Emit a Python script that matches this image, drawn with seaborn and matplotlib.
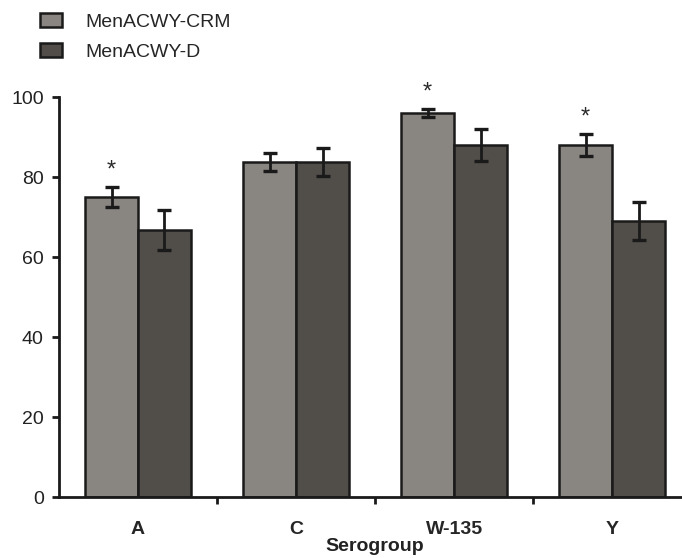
import seaborn as sns
import matplotlib.pyplot as plt
import pandas as pd
import numpy as np
from matplotlib.patches import Patch

groups = ['A', 'C', 'W-135', 'Y']
vaccines = ['MenACWY-CRM', 'MenACWY-D']
crm = [75, 83.8, 96, 88]
crm_err = [2.5, 2.2, 1.0, 2.7]
men_d = [66.8, 83.8, 88, 69]
men_d_err = [5.0, 3.5, 4.0, 4.8]
signif = [True, False, True, True]

colors = ['#8a8580', '#524d48']

sns.set_style("white")
plt.rcParams['font.family'] = ['Liberation Sans', 'DejaVu Sans']

df = pd.DataFrame({
    'Serogroup': groups * 2,
    'Vaccine': [vaccines[0]] * 4 + [vaccines[1]] * 4,
    'Value': crm + men_d,
})

fig = plt.figure(figsize=(6.82, 5.58), dpi=100)
ax = fig.add_axes([0.0865, 0.109, 0.927, 0.717])
sns.barplot(data=df, x='Serogroup', y='Value', hue='Vaccine', palette=colors,
            width=0.67, gap=0, edgecolor='#1a1a1a', linewidth=1.8,
            errorbar=None, legend=False, ax=ax)

errs = [crm_err, men_d_err]
vals = [crm, men_d]
bar_conts = list(ax.containers)
for k, cont in enumerate(bar_conts):
    xs = [b.get_x() + b.get_width() / 2 for b in cont]
    ax.errorbar(xs, vals[k], yerr=errs[k], fmt='none', ecolor='#1a1a1a',
                elinewidth=2.0, capsize=5, capthick=2.4, zorder=5)
    if k == 0:
        for x, v, e, s in zip(xs, vals[k], errs[k], signif):
            if s:
                ax.text(x, v + e + 1.5, '*', ha='center', va='bottom',
                        fontsize=17, color='#2a2a2a')

ax.set_xlim(-0.5, 3.5)
ax.set_ylim(0, 100)
ax.set_yticks([0, 20, 40, 60, 80, 100])
ax.set_xticks([0.5, 1.5, 2.5], minor=False)
ax.set_xticklabels([])
ax.set_xticks([0, 1, 2, 3], minor=True)
ax.set_xticklabels(groups, minor=True, fontweight='bold', fontsize=14)
ax.tick_params(axis='x', which='major', direction='out', length=5, width=2.0,
               color='#1a1a1a', bottom=True)
ax.tick_params(axis='x', which='minor', length=0, pad=17)
ax.tick_params(axis='y', direction='out', length=5, width=2.0, color='#1a1a1a',
               labelsize=14, left=True, pad=6, labelcolor='#222222')
for sp in ['top', 'right']:
    ax.spines[sp].set_visible(False)
for sp in ['left', 'bottom']:
    ax.spines[sp].set_linewidth(2.0)
    ax.spines[sp].set_color('#1a1a1a')
ax.set_xlabel('Serogroup', fontweight='bold', fontsize=14, labelpad=0.5,
              color='#222222')
ax.set_ylabel('')

handles = [Patch(facecolor=c, edgecolor='#1a1a1a', linewidth=1.8) for c in colors]
fig.legend(handles, vaccines, loc='upper left', bbox_to_anchor=(0.0587, 0.977),
           frameon=False, fontsize=14, handlelength=1.13, handleheight=0.72,
           handletextpad=1.18, labelspacing=0.65, borderpad=0,
           borderaxespad=0)

plt.savefig('out.png', dpi=100)
